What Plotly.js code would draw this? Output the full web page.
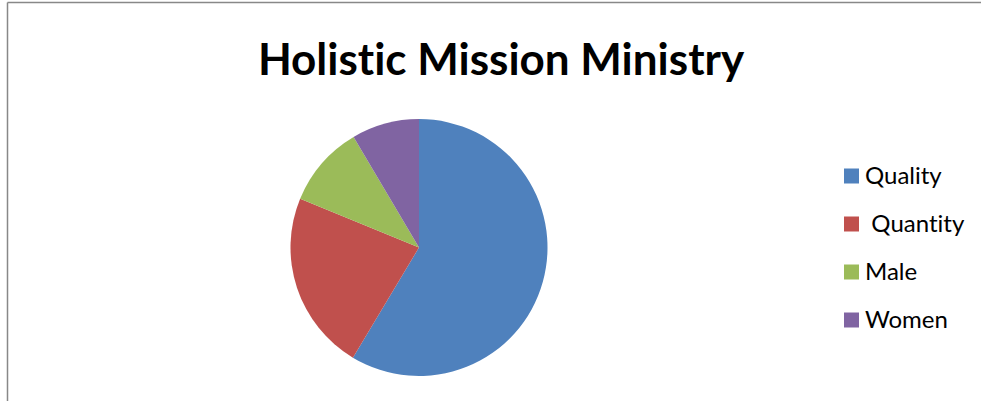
<!DOCTYPE html>
<html>
<head>
<meta charset="utf-8">
<script src="https://cdn.plot.ly/plotly-3.0.1.min.js"></script>
<style>
  html, body { margin: 0; padding: 0; background: #ffffff; }
  #chart { width: 981px; height: 401px; }
  #chart text { font-variant-ligatures: none; font-feature-settings: "liga" 0, "clig" 0; }
</style>
</head>
<body>
<div id="chart"></div>
<script>
// Data (approximate shares, %)
const labels = ["Quality", " Quantity", "Male", "Women"];
const values = [58.6, 22.6, 10.3, 8.5];
const colors = ["#4F81BD", "#C0504D", "#9BBB59", "#8064A2"];
const chartTitle = "Holistic Mission Ministry";

const W = 981, H = 401;
const px = v => v / W;          // x pixel -> paper
const py = v => 1 - v / H;      // y pixel (from top) -> paper

const trace = {
  type: "pie",
  labels: labels,
  values: values,
  sort: false,
  direction: "clockwise",
  rotation: 0,
  textinfo: "none",
  hoverinfo: "label+value",
  marker: { colors: colors, line: { width: 0 } },
  domain: { x: [px(290), px(548)], y: [py(376), py(119)] },
  showlegend: false
};

const shapes = [
  // chart frame (top and left edges visible)
  { type: "line", xref: "paper", yref: "paper", x0: px(7.5), x1: 1, y0: py(2.5), y1: py(2.5),
    line: { color: "#888888", width: 1.5 } },
  { type: "line", xref: "paper", yref: "paper", x0: px(7.5), x1: px(7.5), y0: py(2.5), y1: 0,
    line: { color: "#888888", width: 1.5 } }
];
const annotations = [];

// legend built from the labels / colors arrays
labels.forEach((lab, i) => {
  const cy = 176 + i * 48;
  shapes.push({ type: "rect", xref: "paper", yref: "paper",
    x0: px(844), x1: px(859), y0: py(cy - 7.5), y1: py(cy + 7.5),
    fillcolor: colors[i], line: { width: 0 } });
  annotations.push({ xref: "paper", yref: "paper", x: px(863), y: py(cy - 2),
    xanchor: "left", yanchor: "middle", showarrow: false,
    text: lab.replace(/^ /, "&nbsp;"),
    font: { family: "Lato, 'Open Sans', sans-serif", size: 24, color: "#000000" } });
});

const layout = {
  width: W, height: H,
  margin: { l: 0, r: 0, t: 0, b: 0 },
  paper_bgcolor: "#ffffff",
  plot_bgcolor: "#ffffff",
  title: {
    text: "<b>" + chartTitle + "</b>",
    x: px(501), xanchor: "center",
    y: py(60), yanchor: "middle", yref: "container",
    font: { family: "Lato, 'Open Sans', sans-serif", size: 44, color: "#000000" }
  },
  shapes: shapes,
  annotations: annotations,
  showlegend: false
};

Plotly.newPlot("chart", [trace], layout, { displayModeBar: false, staticPlot: true });
</script>
</body>
</html>
